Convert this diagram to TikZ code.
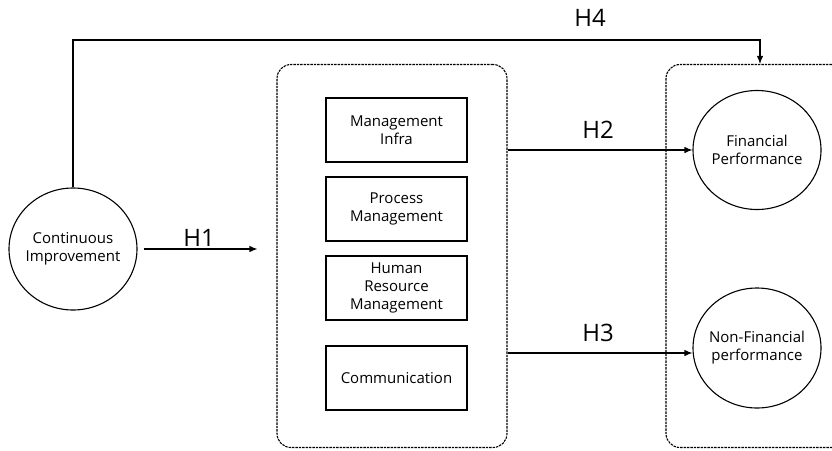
\documentclass[tikz,border=0pt]{standalone}
\usepackage{fontspec}
\setmainfont{Open Sans}
\usetikzlibrary{arrows.meta,shapes.geometric}
\begin{document}
\begin{tikzpicture}[x=1pt,y=-1pt,
  line width=1.1pt,
  arr/.style={-{Latex[length=8pt,width=6.5pt]}},
  dashbox/.style={draw,dash pattern=on 2.4pt off 1pt,rounded corners=14pt,line width=1.1pt},
  itembox/.style={draw,minimum width=141pt,minimum height=64pt,inner sep=0pt,align=center,font=\fontsize{15}{18}\selectfont},
  construct/.style={draw,ellipse,inner xsep=-8pt,inner ysep=0pt,align=center,font=\fontsize{15}{18}\selectfont},
  hyp/.style={font=\fontsize{24}{26}\selectfont}]
\clip (0,0) rectangle (832,450);
% containers
\node (mid) [dashbox,minimum width=230pt,minimum height=383pt] at (392,256) {};
\node (rbox) [dashbox,minimum width=190pt,minimum height=383pt] at (761,256) {};
% independent construct
\node (ci) [construct,minimum width=128pt,minimum height=122pt] at (73,249) {Continuous\\Improvement};
% dimensions
\node (m1) [itembox] at (396.5,130) {Management\\Infra};
\node (m2) [itembox] at (396.5,209) {Process\\Management};
\node (m3) [itembox] at (396.5,288) {Human\\Resource\\Management};
\node (m4) [itembox] at (396.5,378) {Communication};
% outcomes
\node (fin) [construct,minimum width=128pt,minimum height=119pt] at (757,150) {Financial\\Performance};
\node (nfin) [construct,minimum width=128pt,minimum height=120pt] at (757,348) {Non-Financial\\performance};
% paths
\draw[arr] ([xshift=6pt]ci.east) -- ([xshift=-19pt]mid.west |- ci.east);
\draw[arr] (mid.east |- fin.west) -- (fin.west);
\draw[arr] ([yshift=-5pt]mid.east |- nfin.west) -- ([yshift=-5pt]nfin.west);
\coordinate (bend) at (760,40);
\draw[arr] (ci.north) |- (bend) -- (rbox.north -| bend);
% hypothesis labels
\node (h1) [hyp] at (199,238) {H1};
\node (h2) [hyp] at (598,130) {H2};
\node (h3) [hyp] at (598,333) {H3};
\node (h4) [hyp] at (590,18) {H4};
\end{tikzpicture}
\end{document}
